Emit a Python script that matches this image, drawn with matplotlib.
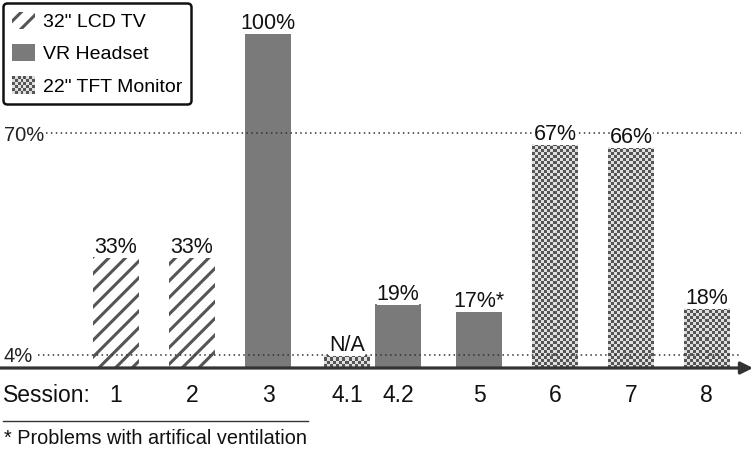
import numpy as np
import matplotlib
matplotlib.use("Agg")
import matplotlib.pyplot as plt
from matplotlib.patches import Patch, Rectangle
from matplotlib.collections import PatchCollection
from matplotlib.colors import ListedColormap
from matplotlib.lines import Line2D

plt.rcParams['font.family'] = ['Liberation Sans', 'DejaVu Sans']
plt.rcParams['hatch.linewidth'] = 2.2

# ---- data ----
sessions = ['1', '2', '3', '4.1', '4.2', '5', '6', '7', '8']
values = [33, 33, 100, 4, 19, 17, 67, 66, 18]
value_labels = ['33%', '33%', '100%', 'N/A', '19%', '17%*', '67%', '66%', '18%']
devices = ['LCD', 'LCD', 'VR', 'TFT', 'VR', 'VR', 'TFT', 'TFT', 'TFT']
legend_labels = ['32" LCD TV', 'VR Headset', '22" TFT Monitor']
ref_levels = [70, 4]
ref_labels = ['70%', '4%']
footnote = '* Problems with artifical ventilation'

# ---- layout ----
W, H = 756, 449
positions = [1, 2, 3, 4.04, 4.71, 5.78, 6.78, 7.78, 8.77]
bar_w = 0.605
px_per_unit_x = 76.0
x0_px = 116.0
base_px = 368.0  # from top
px_per_pct = 3.35

SOLID = '#7a7a7a'
DARK = '#555555'
LIGHT = '#dedede'
LINE = '#333333'

fig = plt.figure(figsize=(W / 100, H / 100), dpi=100)
ax = fig.add_axes([0, 0, 1, 1])
ax.axis('off')


def px_to_x(px):
    return 1 + (px - x0_px) / px_per_unit_x


for pos, v, d in zip(positions, values, devices):
    if d == 'LCD':
        ax.bar(pos, v, width=bar_w, facecolor='white', edgecolor=DARK,
               hatch='//', linewidth=0, zorder=2)
    elif d == 'VR':
        ax.bar(pos, v, width=bar_w, color=SOLID, linewidth=0, zorder=2)
    else:
        bars = ax.bar(pos, v, width=bar_w, facecolor='none', linewidth=0, zorder=2)
        nx = int(round(bar_w * px_per_unit_x / 3))
        ny = max(1, int(round(v * px_per_pct / 3)))
        ii, jj = np.indices((ny, nx))
        arr = (ii + jj) % 2
        im = ax.imshow(arr, cmap=ListedColormap([LIGHT, DARK]),
                       extent=(pos - bar_w / 2, pos + bar_w / 2, 0, v),
                       interpolation='nearest', aspect='auto', zorder=2.5)
        im.set_clip_path(bars[0])

ax.set_xlim(1 - x0_px / px_per_unit_x, 1 + (W - x0_px) / px_per_unit_x)
ax.set_ylim(-(H - base_px) / px_per_pct, base_px / px_per_pct)

# reference dotted lines
xmins = [px_to_x(46), px_to_x(38)]
for lvl, lab, xm in zip(ref_levels, ref_labels, xmins):
    ax.hlines(lvl, xm, px_to_x(741), colors=LINE, linestyles=(0, (1, 2.2)),
              linewidth=1.1, zorder=3)
    fig.text(4 / W, 1 - (base_px - lvl * px_per_pct) / H, lab, fontsize=14.5,
             ha='left', va='center_baseline', color='#222222')

# value labels
for pos, v, lab in zip(positions, values, value_labels):
    ax.annotate(lab, xy=(pos, v), xytext=(0, 4), textcoords='offset pixels',
                ha='center', va='baseline', fontsize=15.5, color='#111111',
                zorder=5, bbox=dict(facecolor='white', edgecolor='none', pad=0))

# x axis arrow
ax.annotate('', xy=(px_to_x(753), 0), xytext=(px_to_x(0), 0),
            arrowprops=dict(arrowstyle='-|>', lw=2.3, color=LINE,
                            mutation_scale=18, shrinkA=0, shrinkB=0),
            zorder=6)

# session labels
y_sess = 1 - 396 / H
fig.text(3 / W, y_sess, 'Session:', fontsize=16.5, ha='left', va='center', color='#111111')
for pos, s in zip(positions, sessions):
    ax.text(pos, -(396 - base_px) / px_per_pct, s, fontsize=16.5, ha='center',
            va='center', color='#111111')

# footnote
fig.add_artist(Line2D([3 / W, 308 / W], [1 - 421 / H, 1 - 421 / H],
                      transform=fig.transFigure, color=LINE, lw=1.0))
fig.text(4 / W, 1 - 438 / H, footnote, fontsize=14.3, ha='left', va='center',
         color='#111111')


# legend
class CheckerHandle:
    pass


class CheckerHandler:
    def legend_artist(self, legend, orig_handle, fontsize, handlebox):
        x0, y0 = -handlebox.xdescent, -handlebox.ydescent
        w, h = handlebox.width, handlebox.height
        s = 2.16
        nx = int(round(w / s))
        ny = int(round(h / s))
        sx, sy = w / nx, h / ny
        rects_d, rects_l = [], []
        for i in range(ny):
            for j in range(nx):
                r = Rectangle((x0 + j * sx, y0 + i * sy), sx, sy)
                (rects_d if (i + j) % 2 else rects_l).append(r)
        pl = PatchCollection(rects_l, facecolor=LIGHT, edgecolor='none',
                             transform=handlebox.get_transform())
        pd = PatchCollection(rects_d, facecolor=DARK, edgecolor='none',
                             transform=handlebox.get_transform())
        handlebox.add_artist(pl)
        handlebox.add_artist(pd)
        return pd


handles = [Patch(facecolor='white', edgecolor=DARK, hatch='//', linewidth=0),
           Patch(facecolor=SOLID, linewidth=0),
           CheckerHandle()]
leg = ax.legend(handles, legend_labels, loc='upper left',
                bbox_to_anchor=(3 / W, 1 - 3 / H), bbox_transform=fig.transFigure,
                borderaxespad=0, fontsize=14, handlelength=1.2, handleheight=1.0,
                handletextpad=0.42, labelspacing=0.66, borderpad=0.45,
                frameon=True, fancybox=True,
                handler_map={CheckerHandle: CheckerHandler()})
fr = leg.get_frame()
fr.set_edgecolor('#111111')
fr.set_linewidth(1.8)
fr.set_alpha(1)
leg.set_zorder(10)

fig.savefig('out.png', dpi=100)
